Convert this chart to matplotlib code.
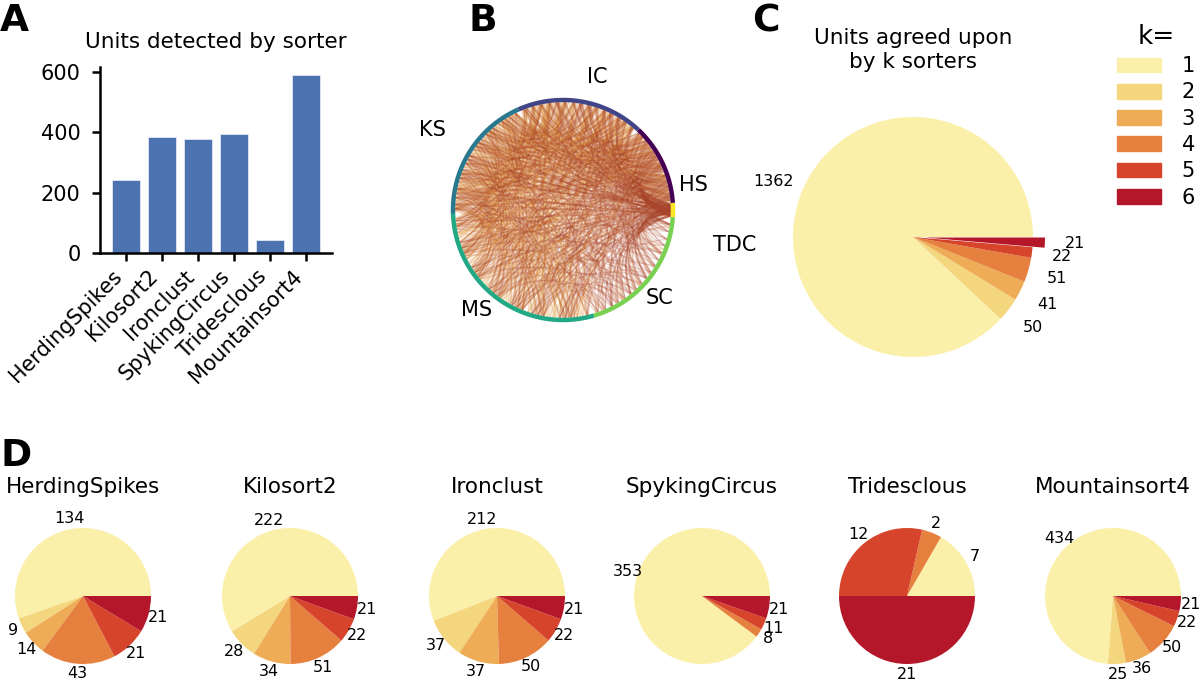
import numpy as np
import matplotlib
matplotlib.use('Agg')
import matplotlib.pyplot as plt
from matplotlib.collections import LineCollection
from matplotlib.patches import Patch

# --- data ---
sorters = ['HerdingSpikes', 'Kilosort2', 'Ironclust', 'SpykingCircus', 'Tridesclous', 'Mountainsort4']
abbrev = ['HS', 'KS', 'IC', 'SC', 'TDC', 'MS']
detected = [243, 385, 379, 395, 42, 589]

k_levels = [1, 2, 3, 4, 5, 6]
agreed_total = [1362, 50, 41, 51, 22, 21]

hs_counts = [134, 9, 14, 43, 21, 21]
ks_counts = [222, 28, 34, 51, 22, 21]
ic_counts = [212, 37, 37, 50, 22, 21]
sc_counts = [353, 0, 0, 8, 11, 21]
tdc_counts = [7, 0, 0, 2, 12, 21]
ms_counts = [434, 25, 36, 50, 22, 21]

# order of sorters around the circle in panel B (counterclockwise from the right)
circle_order = ['TDC', 'HS', 'IC', 'KS', 'MS', 'SC']

k_colors = ['#fbf0a9', '#f4d67e', '#edac55', '#e6803f', '#d6442c', '#b5172a']
chord_colors = ['#f0cf6e', '#e9ad52', '#dc8a3e', '#c4622f', '#a8432b']  # k = 2..6
bar_color = '#4c72b0'

W, H = 1200, 680
plt.rcParams['font.family'] = ['DejaVu Sans']


def px_axes(fig, cx, cy, hw, hh):
    # axes centred on a pixel position
    return fig.add_axes([(cx - hw) / W, 1 - (cy + hh) / H, 2 * hw / W, 2 * hh / H])


def count_label(vals):
    tot = sum(vals)
    return lambda p: str(int(round(p * tot / 100))) if p > 0 else ''


fig = plt.figure(figsize=(12, 6.8), dpi=100)

# ---------- A: bar chart ----------
axA = fig.add_axes([100 / W, 1 - 253 / H, 232 / W, 186 / H])
axA.bar(range(len(sorters)), detected, width=0.8, color=bar_color,
        edgecolor='#dfe7f3', linewidth=0.6)
axA.set_xlim(-0.72, 5.72)
axA.set_ylim(0, 617)
axA.set_yticks([0, 200, 400, 600])
axA.set_xticks(range(len(sorters)))
axA.set_xticklabels(sorters, rotation=45, ha='right')
for s in ['top', 'right']:
    axA.spines[s].set_visible(False)
for s in ['left', 'bottom']:
    axA.spines[s].set_linewidth(1.8)
axA.tick_params(width=1.8, length=6, labelsize=15)
axA.tick_params(axis='y', pad=8)
fig.text(216 / W, 1 - 42 / H, 'Units detected by sorter', ha='center', va='center', fontsize=15.5)

# ---------- B: chord diagram ----------
axB = px_axes(fig, 563, 210, 160, 160)
lim = 160 / 110
axB.set_xlim(-lim, lim)
axB.set_ylim(-lim, lim)
axB.set_aspect('equal')
axB.axis('off')

counts_by_abbrev = dict(zip(abbrev, [hs_counts, ks_counts, ic_counts, sc_counts, tdc_counts, ms_counts]))
size_by_abbrev = dict(zip(abbrev, detected))
arc_colors = dict(zip(['HS', 'IC', 'KS', 'MS', 'SC', 'TDC'], plt.cm.viridis(np.linspace(0, 1, 6))))
spread = dict(zip(circle_order, [0.618, 0.414, 0.732, 0.291, 0.853, 0.177]))

total = sum(size_by_abbrev[a] for a in circle_order)
start = -0.5 * size_by_abbrev['TDC'] / total * 2 * np.pi
arc_start = {}
pos = start
for a in circle_order:
    span = size_by_abbrev[a] / total * 2 * np.pi
    arc_start[a] = (pos, span)
    th = np.linspace(pos, pos + span, 60)
    axB.plot(np.cos(th), np.sin(th), color=arc_colors[a], lw=3.2, solid_capstyle='butt', zorder=3)
    pos += span


def unit_angle(a, k, j):
    # spread matched units of one sorter over its arc
    s0, span = arc_start[a]
    frac = ((j + 1) * spread[a] + 0.13 * k) % 1.0
    return s0 + span * (0.02 + 0.96 * frac)


t = np.linspace(0, 1, 24)[:, None]
for k in range(2, 7):
    segs = []
    nmax = max(counts_by_abbrev[a][k - 1] for a in circle_order)
    for j in range(nmax):
        members = [a for a in circle_order if counts_by_abbrev[a][k - 1] > j]
        if len(members) > k:
            off = j % len(members)
            members = (members[off:] + members[:off])[:k]
        for m in range(len(members)):
            for n in range(m + 1, len(members)):
                a1 = unit_angle(members[m], k, j)
                a2 = unit_angle(members[n], k, j)
                p0 = np.array([np.cos(a1), np.sin(a1)]) * 0.98
                p2 = np.array([np.cos(a2), np.sin(a2)]) * 0.98
                c = (p0 + p2) / 2 * 0.55
                segs.append((1 - t) ** 2 * p0 + 2 * (1 - t) * t * c + t ** 2 * p2)
    lc = LineCollection(segs, colors=chord_colors[k - 2], linewidths=1.0,
                        alpha=0.35 if k <= 3 else 0.22, zorder=2)
    axB.add_collection(lc)

b_label_pos = {'IC': (0.31, 1.21), 'KS': (-1.19, 0.73), 'HS': (1.19, 0.23),
               'TDC': (1.56, -0.32), 'SC': (0.88, -0.80), 'MS': (-0.79, -0.91)}
for a, (x, y) in b_label_pos.items():
    axB.text(x, y, a, ha='center', va='center', fontsize=15)

# ---------- C: overall agreement pie ----------
axC = px_axes(fig, 913, 237, 200, 200)
axC.pie(agreed_total, colors=k_colors, explode=[0, 0, 0, 0, 0, 0.1],
        autopct=count_label(agreed_total), pctdistance=1.25, textprops={'fontsize': 11.5})
limC = 200 / 120
axC.set_xlim(-limC, limC)
axC.set_ylim(-limC, limC)
fig.text(913 / W, 1 - 50 / H, 'Units agreed upon\nby k sorters', ha='center', va='center',
         fontsize=15.5, linespacing=1.2)

handles = [Patch(color=c) for c in k_colors]
fig.legend(handles, [str(k) for k in k_levels], title='k=', loc='upper left',
           bbox_to_anchor=(1117 / W, 1 - 24 / H), frameon=False, fontsize=15,
           title_fontsize=19, handlelength=2.1, handleheight=0.72, labelspacing=0.3,
           handletextpad=1.0, borderaxespad=0, borderpad=0)

# ---------- D: agreement per sorter ----------
per_sorter = [hs_counts, ks_counts, ic_counts, sc_counts, tdc_counts, ms_counts]
d_centers = [83, 290, 497, 702, 907, 1113]
limD = 100 / 68
for name, vals, cx in zip(sorters, per_sorter, d_centers):
    ax = px_axes(fig, cx, 596, 100, 100)
    ax.pie(vals, colors=k_colors, autopct=count_label(vals), pctdistance=1.15,
           textprops={'fontsize': 11.5})
    ax.set_xlim(-limD, limD)
    ax.set_ylim(-limD, limD)
    ax.text(0, 1.6, name, ha='center', va='center', fontsize=15.5)

# panel letters
for letter, x, y in [('A', 0, 3), ('B', 468, 3), ('C', 752, 3), ('D', 0, 438)]:
    fig.text(x / W, 1 - y / H, letter, ha='left', va='top', fontsize=27, fontweight='bold')

fig.savefig('out.png', dpi=100)
